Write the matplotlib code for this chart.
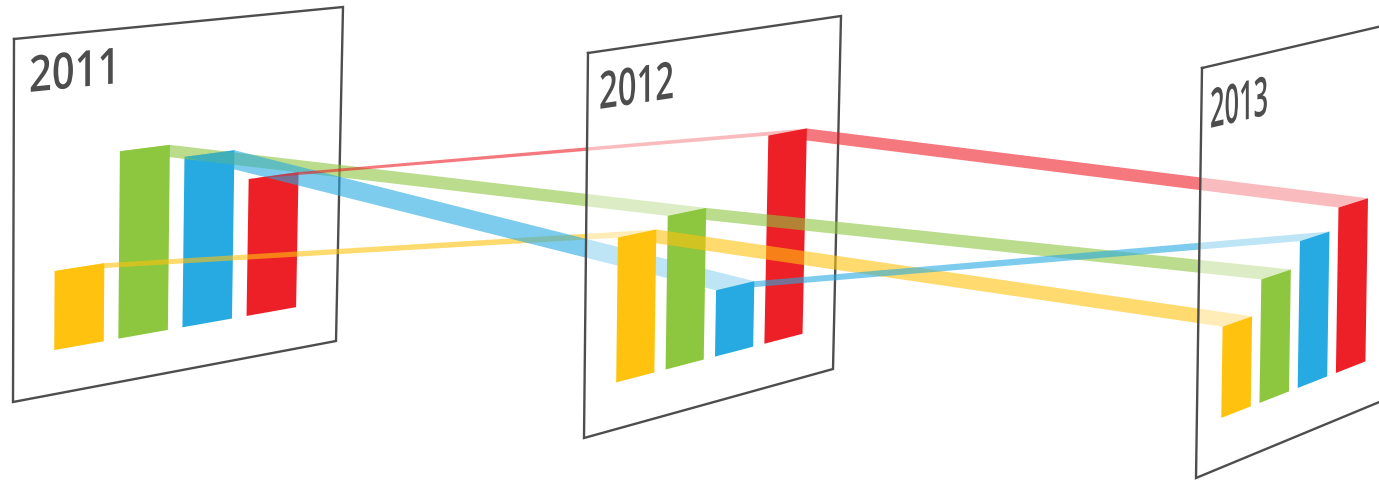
import numpy as np
import matplotlib
matplotlib.use('Agg')
import matplotlib.pyplot as plt
from matplotlib.patheffects import AbstractPathEffect
from matplotlib.transforms import Affine2D

years = ['2011', '2012', '2013']
colors = ['#FFC20E', '#8DC63F', '#27AAE1', '#ED1F27']

# bar heights per year, yellow / green / blue / red
values_2011 = [22, 53, 49, 40]
values_2012 = [38, 41, 18, 57.5]
values_2013 = [22.5, 31, 37.5, 43]
all_values = [values_2011, values_2012, values_2013]

# panel corners in pixels: top left, top right, bottom right, bottom left
panels = [
    [(14, 39), (343, 7), (336, 341), (13, 402)],
    [(588, 53), (841, 16), (833, 369), (584, 438)],
    [(1202, 68), (1395, 23), (1389, 398), (1196, 478)],
]

bar_start = 0.127
bar_step = 0.198
bar_width = 0.153
baseline = 12.3

# label baseline start, font size, x squeeze, slope
labels = [
    (29, 92, 36, 0.80, 0.10),
    (599, 109, 37, 0.64, 0.15),
    (1210, 128, 39, 0.47, 0.235),
]


class Skew(AbstractPathEffect):
    # squeezes and shears the text about its anchor so it sits on the panel
    def __init__(self, x0, y0, sx, slope):
        self.t = (Affine2D().translate(-x0, -y0)
                  .scale(sx, 1)
                  .skew(0, np.arctan(slope))
                  .translate(x0, y0))

    def draw_path(self, renderer, gc, tpath, affine, rgbFace=None):
        renderer.draw_path(gc, tpath, affine + self.t, rgbFace)


def panel_point(panel, u, v):
    tl, tr, br, bl = [np.array(p, dtype=float) for p in panel]
    top = (1 - u) * tl + u * tr
    bottom = (1 - u) * bl + u * br
    return (1 - v) * bottom + v * top


def bar_corners(panel, i, value):
    u0 = bar_start + i * bar_step
    u1 = u0 + bar_width
    v0 = baseline / 100
    v1 = v0 + value / 100
    return (panel_point(panel, u0, v1), panel_point(panel, u1, v1),
            panel_point(panel, u1, v0), panel_point(panel, u0, v0))


fig = plt.figure(figsize=(13.79, 4.82), dpi=100)
ax = fig.add_axes([0, 0, 1, 1])
ax.set_xlim(0, 1379)
ax.set_ylim(482, 0)
ax.axis('off')

z = 1
for p in range(3):
    panel = panels[p]

    # white veil over the ribbons arriving from behind the panel
    xs, ys = zip(*panel)
    ax.fill(xs, ys, color='white', alpha=0.5, lw=0, zorder=z)
    z += 1
    ax.plot(list(xs) + [xs[0]], list(ys) + [ys[0]], color='#4d4d4d', lw=1.7,
            solid_joinstyle='miter', zorder=z)
    z += 1

    for i in range(4):
        c = bar_corners(panel, i, all_values[p][i])
        ax.fill([q[0] for q in c], [q[1] for q in c], color=colors[i], lw=0, zorder=z)
        z += 1

    # ribbons joining the bar tops to the next year
    if p < 2:
        for i in range(4):
            a = bar_corners(panel, i, all_values[p][i])
            b = bar_corners(panels[p + 1], i, all_values[p + 1][i])
            rx = [a[0][0], a[1][0], b[1][0], b[0][0]]
            ry = [a[0][1], a[1][1], b[1][1], b[0][1]]
            ax.fill(rx, ry, color=colors[i], alpha=0.6, lw=0, zorder=z)
            z += 1

fig.canvas.draw()
for year, (x, y, size, sx, slope) in zip(years, labels):
    x0, y0 = ax.transData.transform((x, y))
    t = ax.text(x, y, year, fontsize=size, family='Open Sans', weight='semibold',
                color='#4d4d4d', ha='left', va='baseline', zorder=z)
    t.set_path_effects([Skew(x0, y0, sx, slope)])

fig.savefig('out.png', dpi=100)
